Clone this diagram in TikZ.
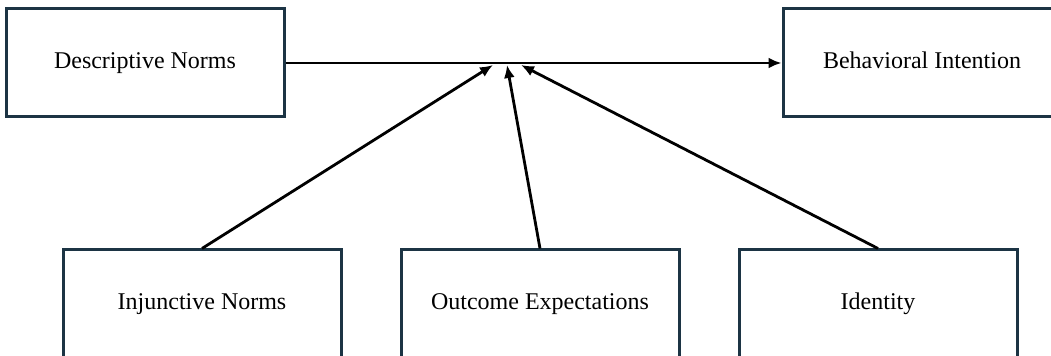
\documentclass[tikz,border=0pt]{standalone}
\usepackage{fontspec}
\setmainfont{Liberation Serif}
\usepackage{xcolor}
\usetikzlibrary{arrows.meta}
\usetikzlibrary{positioning}

\definecolor{boxline}{HTML}{1C3444}

\begin{document}
\begin{tikzpicture}[x=0.5pt,y=-0.5pt,
    box/.style={draw=boxline,line width=1.5pt,fill=white,minimum width=139pt,minimum height=54pt,inner sep=0pt,text height=8.5pt,text depth=2.5pt,font=\fontsize{12}{14}\selectfont},
    link/.style={line width=1.4pt,-{Latex[length=6.5pt,width=5.5pt]}}]
        %Frame
            \useasboundingbox (0,0) rectangle (1051,356);
        %Top row
            \node[box] (desc) at (145,63) {Descriptive Norms};
            \node[box] (intent) at (922,63) {Behavioral Intention};
        %Bottom row
            \node[box] (inj) at (202,304) {Injunctive Norms};
            \node[box] (outc) at (540,304) {Outcome Expectations};
            \node[box] (ident) at (878,304) {Identity};
        %Tips below the main line
            \coordinate (tipinj) at (493,65);
            \coordinate (tipoutc) at (507,65);
            \coordinate (tipident) at (521,65);
        %Main path
            \draw[link] (desc.east) -- (intent.west);
        %Influences
            \draw[link] (inj.north) -- (tipinj);
            \draw[link] (outc.north) -- (tipoutc);
            \draw[link] (ident.north) -- (tipident);
    \end{tikzpicture}
\end{document}
